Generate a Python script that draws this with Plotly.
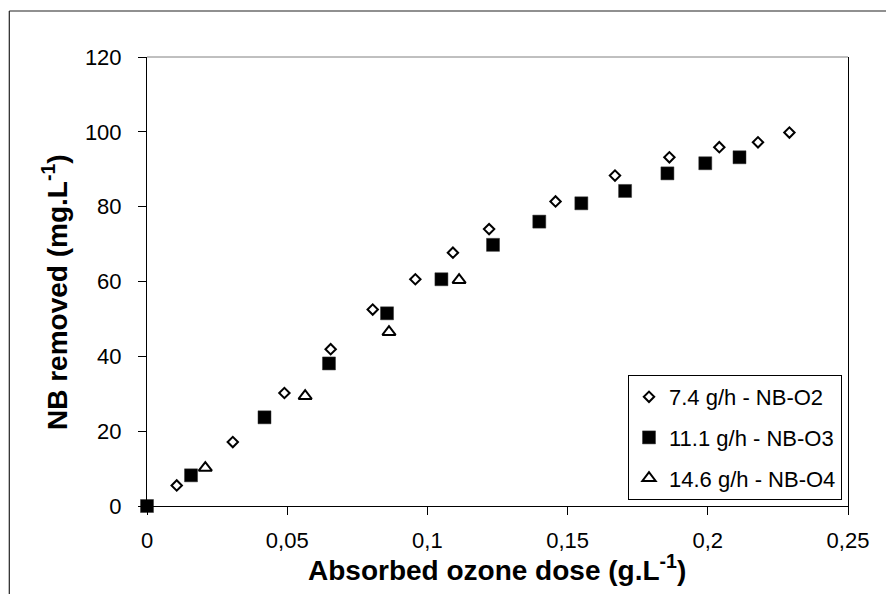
import plotly.graph_objects as go

# Absorbed ozone dose (g/L) and NB removed (mg/L) for three ozone flow rates
dose_o2 = [0.0106, 0.0306, 0.049, 0.0655, 0.0805, 0.0957, 0.1091, 0.122, 0.1457, 0.1669, 0.1863, 0.2041, 0.2179, 0.2291]
nb_o2 = [5.5, 17.1, 30.2, 41.9, 52.5, 60.6, 67.7, 74.0, 81.4, 88.3, 93.2, 95.9, 97.2, 99.8]

dose_o3 = [0.0, 0.0157, 0.0419, 0.0649, 0.0856, 0.105, 0.1234, 0.1399, 0.1549, 0.1705, 0.1856, 0.1991, 0.2113]
nb_o3 = [0.0, 8.2, 23.7, 38.1, 51.5, 60.6, 69.8, 76.0, 80.9, 84.2, 88.9, 91.6, 93.2]

dose_o4 = [0.0208, 0.0564, 0.0863, 0.1113]
nb_o4 = [10.2, 29.4, 46.5, 60.4]

series_names = ["7.4 g/h - NB-O2", "11.1 g/h - NB-O3", "14.6 g/h - NB-O4"]

x_tickvals = [0, 0.05, 0.1, 0.15, 0.2, 0.25]
x_ticktext = ["0", "0,05", "0,1", "0,15", "0,2", "0,25"]
y_tickvals = [0, 20, 40, 60, 80, 100, 120]

FONT = "Arial, 'Liberation Sans', sans-serif"
W, H = 886, 594
L, R, T, B = 147, 38, 57, 88
PW, PH = W - L - R, H - T - B


def px_x(px):
    return (px - L) / PW


def px_y(py):
    return (H - B - py) / PH


fig = go.Figure()

fig.add_trace(go.Scatter(
    x=dose_o2, y=nb_o2, mode="markers", name=series_names[0], legendgroup="a",
    cliponaxis=False,
    marker=dict(symbol="diamond", size=8, color="white", line=dict(color="black", width=2)),
))
fig.add_trace(go.Scatter(
    x=dose_o3, y=nb_o3, mode="markers", name=series_names[1], legendgroup="b",
    cliponaxis=False,
    marker=dict(symbol="square", size=13, color="black", line=dict(color="#333333", width=0.5)),
))
fig.add_trace(go.Scatter(
    x=dose_o4, y=nb_o4, mode="markers", name=series_names[2], legendgroup="c",
    cliponaxis=False,
    marker=dict(symbol="triangle-up", size=11.5, color="white", line=dict(color="black", width=2)),
))

axis_common = dict(
    showgrid=False, zeroline=False, showline=True, linecolor="black", linewidth=1,
    ticks="outside", ticklen=8, tickwidth=1, tickcolor="black",
    tickfont=dict(family=FONT, size=22, color="black"),
)

fig.update_xaxes(range=[0, 0.25], tickvals=x_tickvals, ticktext=x_ticktext,
                 ticklabelstandoff=7, **axis_common)
fig.update_yaxes(range=[0, 120], tickvals=y_tickvals, mirror=True,
                 ticklabelstandoff=12, **axis_common)

shapes = [
    # plot area top border
    dict(type="line", xref="paper", yref="paper", x0=0, x1=1, y0=1, y1=1,
         line=dict(color="#808080", width=1), layer="below"),
    # outer chart frame (top and left edges)
    dict(type="line", xref="paper", yref="paper", x0=px_x(9.3), x1=px_x(890),
         y0=px_y(11), y1=px_y(11), line=dict(color="#222222", width=1.2)),
    dict(type="line", xref="paper", yref="paper", x0=px_x(9.3), x1=px_x(9.3),
         y0=px_y(11), y1=px_y(600), line=dict(color="#222222", width=1.2)),
]

annotations = [
    dict(text="Absorbed ozone dose (g.L<sup>-1</sup>)", xref="paper", yref="paper",
         x=px_x(497), y=px_y(568), xanchor="center", yanchor="middle", showarrow=False,
         font=dict(family=FONT, size=28, color="black", weight="bold")),
    dict(text="NB removed (mg.L<sup>-1</sup>)", xref="paper", yref="paper",
         x=px_x(55), y=px_y(292), xanchor="center", yanchor="middle", showarrow=False,
         textangle=-90, font=dict(family=FONT, size=28, color="black", weight="bold")),
]

fig.update_layout(
    width=W, height=H,
    margin=dict(l=L, r=R, t=T, b=B, pad=0),
    paper_bgcolor="white", plot_bgcolor="white",
    showlegend=True,
    legend=dict(
        x=px_x(842), y=px_y(500), xanchor="right", yanchor="bottom",
        bgcolor="white", bordercolor="black", borderwidth=1,
        font=dict(family=FONT, size=22, color="black"),
        traceorder="grouped", tracegroupgap=9,
    ),
    shapes=shapes,
    annotations=annotations,
)

fig.write_html("out.html")
